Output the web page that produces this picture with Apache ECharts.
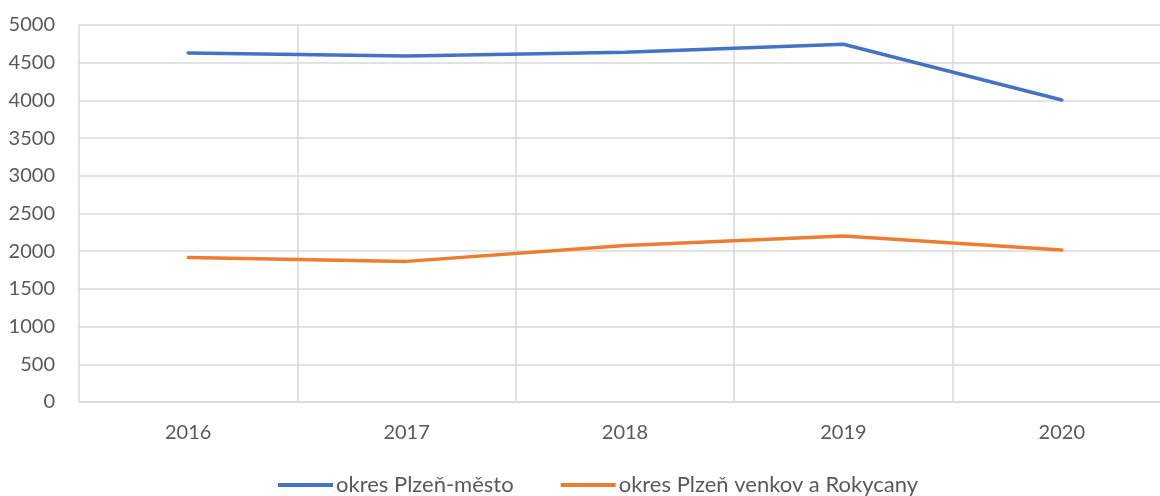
<!DOCTYPE html>
<html>
<head>
<meta charset="utf-8">
<script src="https://cdn.jsdelivr.net/npm/echarts@6/dist/echarts.min.js"></script>
<style>
  html, body { margin: 0; padding: 0; background: #fff; }
  #chart { width: 1160px; height: 496px; }
</style>
</head>
<body>
<div id="chart"></div>
<script>
// Years on the category axis
const years = ['2016', '2017', '2018', '2019', '2020'];
// Series values per year
const plzenMesto = [4630, 4590, 4640, 4745, 4005];
const plzenVenkov = [1915, 1865, 2075, 2200, 2015];
const seriesNames = ['okres Plzeň-město', 'okres Plzeň venkov a Rokycany'];

const textColor = '#595959';
const gridColor = '#d9d9d9';
const font = 'Lato, "Liberation Sans", Arial, sans-serif';

const chart = echarts.init(document.getElementById('chart'), null, { renderer: 'canvas' });
chart.setOption({
  animation: false,
  textStyle: { fontFamily: font },
  // plot area runs slightly past the right edge of the canvas
  grid: { left: 79, top: 25, width: 1092, height: 377, containLabel: false, outerBoundsMode: 'none' },
  legend: {
    left: 273,
    top: 469,
    icon: 'rect',
    itemWidth: 55,
    itemHeight: 4,
    itemGap: 47,
    itemStyle: { borderWidth: 0 },
    textStyle: { color: textColor, fontSize: 22, fontFamily: font, padding: [0, 0, 0, -2] },
    data: seriesNames
  },
  xAxis: {
    type: 'category',
    data: years,
    boundaryGap: true,
    axisLine: { lineStyle: { color: gridColor, width: 1.5 } },
    axisTick: { show: false },
    axisLabel: { color: textColor, fontSize: 20, margin: 21 },
    splitLine: { show: true, lineStyle: { color: gridColor, width: 1.5 } }
  },
  yAxis: {
    type: 'value',
    min: 0,
    max: 5000,
    interval: 500,
    axisLine: { show: false },
    axisTick: { show: false },
    axisLabel: { color: textColor, fontSize: 20, margin: 24, formatter: v => String(v) },
    splitLine: { lineStyle: { color: gridColor, width: 1.5 } }
  },
  series: [
    {
      name: seriesNames[0],
      type: 'line',
      data: plzenMesto,
      showSymbol: false,
      symbol: 'none',
      itemStyle: { color: '#4472c4' },
      lineStyle: { color: '#4472c4', width: 3.5, cap: 'round' }
    },
    {
      name: seriesNames[1],
      type: 'line',
      data: plzenVenkov,
      showSymbol: false,
      symbol: 'none',
      itemStyle: { color: '#ed7d31' },
      lineStyle: { color: '#ed7d31', width: 3.5, cap: 'round' }
    }
  ]
});
</script>
</body>
</html>
